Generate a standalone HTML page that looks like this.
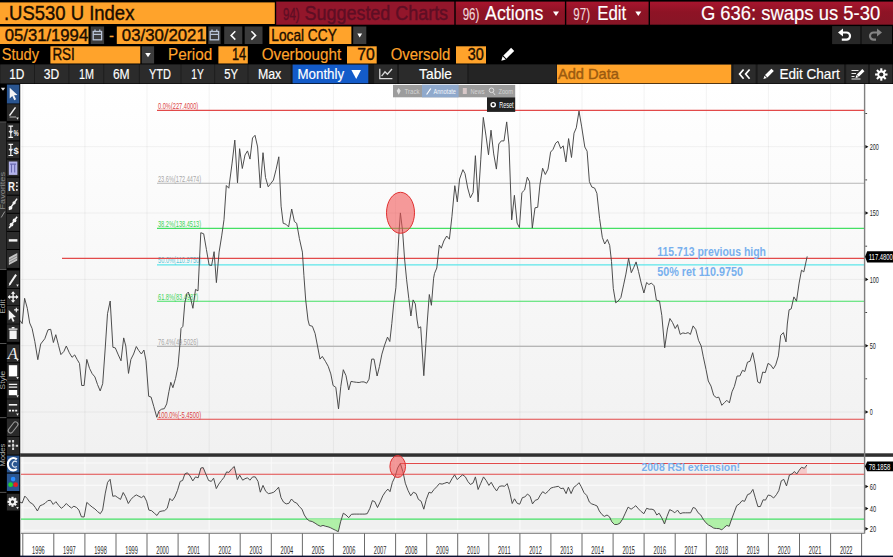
<!DOCTYPE html>
<html><head><meta charset="utf-8"><title>.US530 U Index</title>
<style>
html,body{margin:0;padding:0;background:#000;width:893px;height:557px;overflow:hidden}
svg{display:block;font-family:'Liberation Sans', sans-serif}
</style></head><body>
<svg width="893" height="557" viewBox="0 0 893 557">
<rect x="0" y="0" width="893" height="557" fill="#000"/>
<defs><linearGradient id="rg" x1="0" y1="0" x2="0" y2="1"><stop offset="0" stop-color="#a8152e"/><stop offset="0.45" stop-color="#8e1325"/><stop offset="1" stop-color="#871526"/></linearGradient></defs>
<g id="header">
<rect x="0.0" y="2.4" width="274.8" height="21.6" fill="#ffa32b" />
<text x="3.9" y="19.8" font-size="20" fill="#1a0d00" textLength="130.5" lengthAdjust="spacingAndGlyphs" stroke="#1a0d00" stroke-width="0.40" >.US530 U Index</text>
<rect x="276.2" y="1.6" width="178.1" height="23.1" fill="#93162b" />
<text x="283.0" y="19.8" font-size="17" fill="#5e0e24" textLength="16.6" lengthAdjust="spacingAndGlyphs" stroke="#5e0e24" stroke-width="0.40" >94)</text>
<text x="304.6" y="19.8" font-size="20" fill="#5e0e24" textLength="143.5" lengthAdjust="spacingAndGlyphs" stroke="#5e0e24" stroke-width="0.40" >Suggested Charts</text>
<rect x="455.7" y="1.6" width="109.2" height="23.1" fill="url(#rg)" />
<text x="462.7" y="19.8" font-size="17" fill="#f0d8dc" textLength="16.6" lengthAdjust="spacingAndGlyphs" stroke="#f0d8dc" stroke-width="0.16" >96)</text>
<text x="485.1" y="19.8" font-size="20" fill="#ffffff" textLength="58.2" lengthAdjust="spacingAndGlyphs" stroke="#ffffff" stroke-width="0.16" >Actions</text>
<path d="M553 11.5 h6 l-3 4.5z" fill="#fff"/>
<rect x="566.3" y="1.6" width="82.3" height="23.1" fill="url(#rg)" />
<text x="573.3" y="19.8" font-size="17" fill="#f0d8dc" textLength="16.7" lengthAdjust="spacingAndGlyphs" stroke="#f0d8dc" stroke-width="0.16" >97)</text>
<text x="597.2" y="19.8" font-size="20" fill="#ffffff" textLength="29.1" lengthAdjust="spacingAndGlyphs" stroke="#ffffff" stroke-width="0.16" >Edit</text>
<path d="M635.3 11.5 h6 l-3 4.5z" fill="#fff"/>
<rect x="650.0" y="1.6" width="243.0" height="23.1" fill="url(#rg)" />
<text x="700.9" y="19.8" font-size="20" fill="#ffffff" textLength="179.3" lengthAdjust="spacingAndGlyphs" stroke="#ffffff" stroke-width="0.16" >G 636: swaps us 5-30</text>
<rect x="0.0" y="26.5" width="88.5" height="17.5" fill="#ffa32b" />
<text x="4.7" y="41.2" font-size="17" fill="#1a0d00" textLength="83.5" lengthAdjust="spacingAndGlyphs" stroke="#1a0d00" stroke-width="0.40" >05/31/1994</text>
<rect x="90.7" y="26.5" width="13.4" height="17.5" fill="#3c3c3c" />
<g stroke="#b8c4d8" fill="none" stroke-width="1.3"><rect x="93.2" y="31.5" width="8.4" height="8.3"/><path d="M93.2 34.3 h8.4 M95.0 29.6 v2.2 M99.8 29.6 v2.2"/></g>
<text x="109.0" y="40.5" font-size="17" fill="#ffa32b" textLength="5.0" lengthAdjust="spacingAndGlyphs" stroke="#ffa32b" stroke-width="0.18" >-</text>
<rect x="116.8" y="26.5" width="89.4" height="17.5" fill="#ffa32b" />
<text x="121.8" y="41.2" font-size="17" fill="#1a0d00" textLength="84.0" lengthAdjust="spacingAndGlyphs" stroke="#1a0d00" stroke-width="0.40" >03/30/2021</text>
<rect x="208.3" y="26.5" width="12.3" height="17.5" fill="#3c3c3c" />
<g stroke="#b8c4d8" fill="none" stroke-width="1.3"><rect x="210.2" y="31.5" width="8.4" height="8.3"/><path d="M210.2 34.3 h8.4 M212.0 29.6 v2.2 M216.8 29.6 v2.2"/></g>
<rect x="224.2" y="26.5" width="18.1" height="17.5" fill="#3a3a3a" />
<path d="M235.3 31.2 l-4.2 4.2 l4.2 4.2" stroke="#fff" stroke-width="1.5" fill="none"/>
<rect x="244.7" y="26.5" width="17.8" height="17.5" fill="#3a3a3a" />
<path d="M251.4 31.2 l4.2 4.2 l-4.2 4.2" stroke="#fff" stroke-width="1.5" fill="none"/>
<rect x="269.3" y="26.5" width="82.1" height="17.5" fill="#ffa32b" />
<text x="271.3" y="41.2" font-size="17" fill="#1a0d00" textLength="65.5" lengthAdjust="spacingAndGlyphs" stroke="#1a0d00" stroke-width="0.40" >Local CCY</text>
<rect x="353.2" y="26.5" width="13.1" height="17.5" fill="#3c3c3c" />
<path d="M357.3 33.6 h4.8 l-2.4 3.8z" fill="#fff"/>
<rect x="832.1" y="26.1" width="28.5" height="18.0" fill="#272727" />
<rect x="861.4" y="26.1" width="30.6" height="18.0" fill="#272727" />
<g transform="translate(-1.8 0.3)"><g fill="none" stroke="#fff" stroke-width="2.2"><path d="M843 32.2 h5.2 a3.6 3.6 0 0 1 0 7.2 h-4.6"/></g><path d="M844.8 28.2 v8 l-5 -4z" fill="#fff"/></g>
<g transform="translate(-1.8 0.3)"><g fill="none" stroke="#848484" stroke-width="2.2"><path d="M880.6 32.2 h-5.2 a3.6 3.6 0 0 0 0 7.2 h2.4"/></g><path d="M878.8 28.2 v8 l5 -4z" fill="#848484"/></g>
<text x="1.7" y="60.3" font-size="17" fill="#ffa32b" textLength="37.3" lengthAdjust="spacingAndGlyphs" stroke="#ffa32b" stroke-width="0.18" >Study</text>
<rect x="50.4" y="46.3" width="89.9" height="17.2" fill="#ffa32b" />
<text x="52.4" y="60.3" font-size="17" fill="#1a0d00" textLength="22.4" lengthAdjust="spacingAndGlyphs" stroke="#1a0d00" stroke-width="0.40" >RSI</text>
<rect x="141.7" y="46.3" width="12.4" height="17.2" fill="#3c3c3c" />
<path d="M145.2 53 h5.6 l-2.8 4.2z" fill="#fff"/>
<text x="168.0" y="60.3" font-size="17" fill="#ffa32b" textLength="44.2" lengthAdjust="spacingAndGlyphs" stroke="#ffa32b" stroke-width="0.18" >Period</text>
<rect x="218.4" y="46.3" width="29.4" height="17.2" fill="#ffa32b" />
<text x="231.9" y="60.3" font-size="17" fill="#1a0d00" textLength="14.2" lengthAdjust="spacingAndGlyphs" stroke="#1a0d00" stroke-width="0.40" >14</text>
<text x="261.7" y="60.3" font-size="17" fill="#ffa32b" textLength="79.5" lengthAdjust="spacingAndGlyphs" stroke="#ffa32b" stroke-width="0.18" >Overbought</text>
<rect x="347.0" y="46.3" width="29.7" height="17.2" fill="#ffa32b" />
<text x="357.2" y="60.3" font-size="17" fill="#1a0d00" textLength="17.5" lengthAdjust="spacingAndGlyphs" stroke="#1a0d00" stroke-width="0.40" >70</text>
<text x="390.7" y="60.3" font-size="17" fill="#ffa32b" textLength="59.7" lengthAdjust="spacingAndGlyphs" stroke="#ffa32b" stroke-width="0.18" >Oversold</text>
<rect x="456.0" y="46.3" width="30.0" height="17.2" fill="#ffa32b" />
<text x="467.7" y="60.3" font-size="17" fill="#1a0d00" textLength="16.0" lengthAdjust="spacingAndGlyphs" stroke="#1a0d00" stroke-width="0.40" >30</text>
<g transform="translate(507 55) rotate(45)"><rect x="-2.2" y="-8" width="4.4" height="11" fill="#fff"/><path d="M-2.2 4 h4.4 l-2.2 4z" fill="#fff"/></g>
<rect x="0.0" y="64.4" width="893.0" height="19.0" fill="#1a1a1a" />
<rect x="0.4" y="64.6" width="33.6" height="18.7" fill="#2b2b2b" />
<text x="9.2" y="78.9" font-size="14.5" fill="#ffffff" textLength="15.2" lengthAdjust="spacingAndGlyphs" stroke="#ffffff" stroke-width="0.16" >1D</text>
<rect x="34.8" y="64.6" width="33.7" height="18.7" fill="#2b2b2b" />
<text x="43.7" y="78.9" font-size="14.5" fill="#ffffff" textLength="15.4" lengthAdjust="spacingAndGlyphs" stroke="#ffffff" stroke-width="0.16" >3D</text>
<rect x="69.3" y="64.6" width="34.1" height="18.7" fill="#2b2b2b" />
<text x="79.0" y="78.9" font-size="14.5" fill="#ffffff" textLength="15.0" lengthAdjust="spacingAndGlyphs" stroke="#ffffff" stroke-width="0.16" >1M</text>
<rect x="104.2" y="64.6" width="34.7" height="18.7" fill="#2b2b2b" />
<text x="112.9" y="78.9" font-size="14.5" fill="#ffffff" textLength="16.8" lengthAdjust="spacingAndGlyphs" stroke="#ffffff" stroke-width="0.16" >6M</text>
<rect x="139.7" y="64.6" width="40.9" height="18.7" fill="#2b2b2b" />
<text x="149.0" y="78.9" font-size="14.5" fill="#ffffff" textLength="21.9" lengthAdjust="spacingAndGlyphs" stroke="#ffffff" stroke-width="0.16" >YTD</text>
<rect x="181.4" y="64.6" width="32.9" height="18.7" fill="#2b2b2b" />
<text x="191.3" y="78.9" font-size="14.5" fill="#ffffff" textLength="12.6" lengthAdjust="spacingAndGlyphs" stroke="#ffffff" stroke-width="0.16" >1Y</text>
<rect x="215.1" y="64.6" width="32.5" height="18.7" fill="#2b2b2b" />
<text x="224.2" y="78.9" font-size="14.5" fill="#ffffff" textLength="13.9" lengthAdjust="spacingAndGlyphs" stroke="#ffffff" stroke-width="0.16" >5Y</text>
<rect x="248.4" y="64.6" width="42.2" height="18.7" fill="#2b2b2b" />
<text x="257.9" y="78.9" font-size="14.5" fill="#ffffff" textLength="23.4" lengthAdjust="spacingAndGlyphs" stroke="#ffffff" stroke-width="0.16" >Max</text>
<rect x="292.6" y="64.6" width="75.7" height="18.7" fill="#135bc9" />
<text x="297.5" y="78.9" font-size="14.5" fill="#ffffff" textLength="46.6" lengthAdjust="spacingAndGlyphs" stroke="#ffffff" stroke-width="0.16" >Monthly</text>
<path d="M351.4 70 h9.6 l-4.8 9z" fill="#fff"/>
<rect x="374.1" y="64.6" width="23.1" height="18.7" fill="#2b2b2b" />
<path d="M379.8 68.8 v9.8 h12.6 M381.6 76.2 l3.4 -4.4 l2.4 2.4 l4.6 -5.2" stroke="#d8d8d8" stroke-width="1.3" fill="none"/>
<rect x="399.0" y="64.6" width="68.3" height="18.7" fill="#2b2b2b" />
<text x="419.1" y="78.8" font-size="14.5" fill="#ffffff" textLength="32.9" lengthAdjust="spacingAndGlyphs" stroke="#ffffff" stroke-width="0.16" >Table</text>
<rect x="468.6" y="64.6" width="87.6" height="18.7" fill="#242424" />
<rect x="557.0" y="64.6" width="174.2" height="18.7" fill="#ffa32b" />
<text x="557.9" y="78.9" font-size="14.5" fill="#9a5a10" textLength="61.1" lengthAdjust="spacingAndGlyphs" stroke="#9a5a10" stroke-width="0.40" >Add Data</text>
<rect x="733.5" y="64.6" width="22.1" height="18.7" fill="#2b2b2b" />
<path d="M743.6 69.5 l-4 4.6 l4 4.6 M749.6 69.5 l-4 4.6 l4 4.6" stroke="#fff" stroke-width="1.7" fill="none"/>
<rect x="757.6" y="64.6" width="86.4" height="18.7" fill="#2b2b2b" />
<g transform="translate(768 74.5) rotate(45)"><rect x="-1.7" y="-6.5" width="3.4" height="9" fill="#fff"/><path d="M-1.7 3.3 h3.4 l-1.7 3.2z" fill="#fff"/></g>
<text x="779.4" y="78.9" font-size="14.5" fill="#ffffff" textLength="60.3" lengthAdjust="spacingAndGlyphs" stroke="#ffffff" stroke-width="0.16" >Edit Chart</text>
<rect x="846.2" y="64.6" width="21.8" height="18.7" fill="#2b2b2b" />
<g stroke="#e8e8e8" stroke-width="1.2" fill="none"><path d="M851.5 70.5 h7 M851.5 73.5 h4.5 M851.5 76.5 h3 M851.5 79 h9"/></g><g transform="translate(859.5 74) rotate(45)"><rect x="-1.5" y="-5.5" width="3" height="8" fill="#fff"/><path d="M-1.5 3 h3 l-1.5 2.6z" fill="#fff"/></g>
<rect x="870.0" y="64.6" width="22.0" height="18.7" fill="#2b2b2b" />
<g transform="translate(881.3 74.5)" fill="#fff"><rect x="-1.05" y="-6.2" width="2.1" height="3.4" transform="rotate(0)"/><rect x="-1.05" y="-6.2" width="2.1" height="3.4" transform="rotate(45)"/><rect x="-1.05" y="-6.2" width="2.1" height="3.4" transform="rotate(90)"/><rect x="-1.05" y="-6.2" width="2.1" height="3.4" transform="rotate(135)"/><rect x="-1.05" y="-6.2" width="2.1" height="3.4" transform="rotate(180)"/><rect x="-1.05" y="-6.2" width="2.1" height="3.4" transform="rotate(225)"/><rect x="-1.05" y="-6.2" width="2.1" height="3.4" transform="rotate(270)"/><rect x="-1.05" y="-6.2" width="2.1" height="3.4" transform="rotate(315)"/><circle r="3.9"/><circle r="2.1" fill="#2b2b2b"/></g>
</g>
<g id="chart">
<rect x="20.2" y="84.0" width="872.8" height="473.0" fill="#ffffff" />
<defs><linearGradient id="cg" x1="0" y1="0" x2="0" y2="1"><stop offset="0" stop-color="#ffffff"/><stop offset="1" stop-color="#f1f1f1"/></linearGradient></defs>
<rect x="20.2" y="84.0" width="844.4" height="369.0" fill="url(#cg)" />
<rect x="20.2" y="457.0" width="844.4" height="76.0" fill="#f0f0f0" />
<path d="M22.8 84 V453 M84.9 84 V453 M147.0 84 V453 M209.2 84 V453 M271.3 84 V453 M333.4 84 V453 M395.6 84 V453 M457.7 84 V453 M519.9 84 V453 M582.0 84 V453 M644.1 84 V453 M706.3 84 V453 M768.4 84 V453 M830.6 84 V453 M21 412.0 H864.6 M21 345.7 H864.6 M21 279.4 H864.6 M21 213.0 H864.6 M21 146.7 H864.6" stroke="#000" stroke-opacity="0.05" stroke-width="1" fill="none"/>
<path d="M22.8 457 V533 M84.9 457 V533 M147.0 457 V533 M209.2 457 V533 M271.3 457 V533 M333.4 457 V533 M395.6 457 V533 M457.7 457 V533 M519.9 457 V533 M582.0 457 V533 M644.1 457 V533 M706.3 457 V533 M768.4 457 V533 M830.6 457 V533 M21 530.3 H864.6 M21 507.9 H864.6 M21 485.4 H864.6 M21 463.0 H864.6" stroke="#f9f9f9" stroke-width="1.2" fill="none"/>
<path d="M157 110.4 H864.6" stroke="#e24a4a" stroke-width="1.15"/>
<text x="158.0" y="109.0" font-size="9" fill="#dc4444" textLength="40.2" lengthAdjust="spacingAndGlyphs" >0.0%(227.4000)</text>
<path d="M157 183.2 H864.6" stroke="#b6b6b6" stroke-width="1.15"/>
<text x="158.0" y="181.8" font-size="9" fill="#a8a8a8" textLength="43.1" lengthAdjust="spacingAndGlyphs" >23.6%(172.4474)</text>
<path d="M157 228.3 H864.6" stroke="#44e064" stroke-width="1.15"/>
<text x="158.0" y="226.9" font-size="9" fill="#3cd458" textLength="43.1" lengthAdjust="spacingAndGlyphs" >38.2%(138.4513)</text>
<path d="M157 264.8 H864.6" stroke="#5ce6ea" stroke-width="1.15"/>
<text x="158.0" y="263.4" font-size="9" fill="#5cc8d8" textLength="43.1" lengthAdjust="spacingAndGlyphs" >50.0%(110.9750)</text>
<path d="M157 301.2 H864.6" stroke="#44e064" stroke-width="1.15"/>
<text x="158.0" y="299.8" font-size="9" fill="#3cd458" textLength="40.2" lengthAdjust="spacingAndGlyphs" >61.8%(83.4987)</text>
<path d="M157 346.3 H864.6" stroke="#b6b6b6" stroke-width="1.15"/>
<text x="158.0" y="344.9" font-size="9" fill="#a8a8a8" textLength="40.2" lengthAdjust="spacingAndGlyphs" >76.4%(49.5026)</text>
<path d="M157 419.2 H864.6" stroke="#e24a4a" stroke-width="1.15"/>
<text x="158.0" y="417.8" font-size="9" fill="#dc4444" textLength="43.1" lengthAdjust="spacingAndGlyphs" >100.0%(-5.4500)</text>
<path d="M62 258.4 H864.6" stroke="#e24a4a" stroke-width="1.15"/>
<polyline points="20,320.4 22.2,323.6 24.6,298.3 27.3,308.3 29.7,323 32.1,328.5 34.8,341.4 37.8,359.7 40.7,344 44.8,338.7 48,329.8 50.7,329.3 53.4,342.5 55.8,334.7 58.5,345.4 60.9,354.6 63.9,351.4 66.3,346 69.3,352.7 72,357.3 74.7,354.9 77.1,359.4 79.5,363.5 81.7,385.5 84.1,385.5 86.8,359.4 89.5,368.3 92.2,373.7 94.9,376.9 97.5,384.5 100.2,390.9 102.7,383.7 105.1,350 107.5,313.7 110.2,301 112.9,347.3 115.3,347.9 118.3,354.9 121,360.8 123.7,337.9 125.8,346 128.5,373.4 130.9,359.4 133.6,354 136.3,346.5 138.7,350.5 141.4,354 143.9,350 146,360.8 148.7,396.3 151.1,397.1 153.8,406.6 156.8,417.3 158.9,411.1 161.6,409.2 164.3,408.7 166.7,403.9 168.9,391.7 170.8,382.3 172.9,387.7 175.6,378.3 178,366.2 179.9,344.6 181,328.5 182.9,326.3 184.8,302.9 186.9,293.5 188.3,292.1 190.7,298.8 192.9,308.3 195.5,289.4 198,290.9 200.8,232.7 203.7,233.8 206.4,249.4 209.1,265 211.6,265.5 214.1,251.7 216.4,282.6 219.1,252.1 221.7,235.9 224,219.7 226.3,185.5 228.8,188.2 232.1,163.1 234.8,140.1 237.5,182.8 239.6,148.7 242.3,168.5 245,155 247.5,150.9 250,159.1 252.5,138 255,135.3 257.6,146.9 260.3,187.9 263,152.7 265.5,177.5 268.2,186.8 270.7,183.7 273.4,180.1 276.1,169.4 278.8,156.8 281.1,206.2 283.2,223.3 285.9,224.2 288.6,226.9 291.7,209 294.4,221.5 296.7,223.3 299.4,238.6 302.4,252.1 303.9,275.4 305.7,300 308,320 309.4,325.4 312.4,326.3 315.1,333.5 317.5,346 320,359.1 322.3,356.4 325.4,361.3 328.2,366.3 330.8,373.9 333.1,385.5 335.8,387.3 338.5,408.9 340.8,386.4 343.3,369.7 346,375.7 348.7,390 351,381.4 353.7,381.9 356.4,382.3 359.1,382.5 361.5,381.9 364,381.9 366.7,383.2 369,379.2 371.7,359.1 374,359.1 377.1,376 379.4,366.7 381.9,354.1 384.6,345.1 387.5,337.1 389.8,341.5 391.8,323.6 393.7,303.9 395.9,287.7 397.7,255.4 399.1,231.2 400.4,212.9 402.6,231.2 404.5,258.1 406.6,279.7 408.8,298.5 410.9,316 413.1,299.9 415.3,303.9 417.1,320 418.4,328.1 420.7,326.8 423.8,375.7 425.9,343.3 427.4,320 429.3,294.5 431.4,305.3 433.6,278.3 434.5,273.4 436.8,268 439.3,245 441.3,248.2 443.8,241 446.7,236 449.4,239.2 451.9,216.8 454.8,185.7 457.3,201.9 459.6,179 462.9,169.7 465,173.6 467.7,188 470.4,197.8 473.1,192.5 475.4,155.7 478.1,201.9 480.8,159.2 483.3,117.4 486,135.9 488.5,154.8 491,130.2 493.7,153.9 496.4,169.1 498.8,144 501.3,140.9 504,140.9 506.7,121.9 509,144.9 511.7,219.9 514.4,195.3 517.1,223.1 519.4,227.6 521.9,192.6 524.6,190 527.3,177.2 529.6,181.7 532.3,228.1 535,207.8 537.7,207.3 539.9,185 542.6,168.2 545.3,174.5 548,169.1 550.6,152.1 553,149.4 555.7,143.1 558,141.3 560.7,148.5 563.2,145.8 565.9,161.9 568.6,138.6 571.5,157.5 574,133.2 576.3,127.8 579,111.1 581.7,126.9 584.8,147 587.1,151.2 589.4,181.7 591.9,187.1 594.6,188 596.9,193.3 599.6,218.5 602.3,237.3 604.7,244 607.4,239.5 609.7,245.4 611.5,261.5 613.3,288.5 615.7,302.8 618.2,301 620.9,297.5 623.6,284.9 625.9,274.1 628.6,258.3 631.3,272.7 633.6,267.8 636.1,261.9 638.5,271.4 641.2,283.1 643.9,293 646.6,282.5 648.9,284.5 651.4,283.1 654.1,285.8 656.4,300.1 659.5,301 661.8,315.4 664.7,347.8 667.4,329 669.9,318.5 672.5,322.5 675.2,328.5 677.5,324.6 680.2,334.4 682.9,332.9 685.5,333.5 688.1,332.6 690.4,334.4 693.1,325.9 695.8,329.6 698.5,340.3 701.2,346 703.3,356.8 706,369.4 708.3,381 711,386.1 713.7,395.4 716.4,397.6 718.8,397.2 721.8,405.3 724.5,402.6 726.8,400.3 729.4,402.9 732,391.8 734.4,386.4 737.1,376 739.8,376 742.5,370.3 744.8,371.5 747.5,362.2 750,361.3 752.7,352.7 755,364 757.7,381.9 760.1,383.2 762.7,372.1 765.3,372.6 768,363.4 770.6,364.9 773.3,368.8 775.7,364.9 778.4,355.9 780.7,335.3 783.4,332.6 786,341.9 787.3,324 789.1,309.8 791.2,308.9 793.9,296.9 796.5,301.2 799.1,283.1 801.5,270.2 803.8,271.9 805.5,264.1 807.2,256.4" fill="none" stroke="#444" stroke-width="0.95" stroke-linejoin="round"/>
<ellipse cx="400.5" cy="212.8" rx="14" ry="20.5" fill="#f25252" fill-opacity="0.58" stroke="#e03030" stroke-width="1"/>
<text x="657.3" y="255.6" font-size="12.5" fill="#78b0ee" font-weight="bold" textLength="108.7" lengthAdjust="spacingAndGlyphs" >115.713 previous high</text>
<text x="657.3" y="276.3" font-size="12.5" fill="#78b0ee" font-weight="bold" textLength="85.7" lengthAdjust="spacingAndGlyphs" >50% ret 110.9750</text>
<rect x="393.0" y="84.9" width="122.2" height="12.4" fill="#9c9c9c" />
<rect x="422.0" y="84.7" width="36.6" height="12.6" fill="#8fa9cc" />
<text x="404.5" y="93.8" font-size="6.5" fill="#d4d4d4" textLength="15.0" lengthAdjust="spacingAndGlyphs" >Track</text>
<text x="433.5" y="93.8" font-size="6.5" fill="#f4f6fa" textLength="22.5" lengthAdjust="spacingAndGlyphs" >Annotate</text>
<text x="470.5" y="93.8" font-size="6.5" fill="#d4d4d4" textLength="14.0" lengthAdjust="spacingAndGlyphs" >News</text>
<text x="498.5" y="93.8" font-size="6.5" fill="#d4d4d4" textLength="14.5" lengthAdjust="spacingAndGlyphs" >Zoom</text>
<path d="M398.7 88 l2 2.8 l-2 4 l-2 -4z" fill="#e0e0e0"/><path d="M426.6 94.5 l4.2 -6" stroke="#fff" stroke-width="1.2"/><rect x="462.8" y="88" width="4" height="6" fill="#d8c8c8"/><circle cx="491.5" cy="90.3" r="2.3" fill="none" stroke="#e0e0e0" stroke-width="1"/><path d="M493 92.3 l2 2.6" stroke="#e0e0e0" stroke-width="1"/>
<rect x="487.0" y="97.3" width="28.2" height="14.6" fill="#202020" />
<circle cx="493.2" cy="104.7" r="2.1" fill="none" stroke="#fff" stroke-width="1.4"/>
<text x="499.2" y="107.8" font-size="9" fill="#ffffff" textLength="14.4" lengthAdjust="spacingAndGlyphs" >Reset</text>
<rect x="20.2" y="453.3" width="872.8" height="3.5" fill="#303030" />
<path d="M21 474.2 H864.6" stroke="#e24a4a" stroke-width="1.15"/>
<path d="M21 519.1 H864.6" stroke="#44e064" stroke-width="1.15"/>
<path d="M400 463.5 H864.6" stroke="#e24a4a" stroke-width="1.15"/>
<polygon points="184.8,474.2 184.9,473.9 187.4,472.8 188.6,474.2" fill="#f8b0b0" fill-opacity="0.6"/>
<polygon points="199.2,474.2 200.9,468.0 203.2,467.6 205.9,474.2 205.9,474.2" fill="#f8b0b0" fill-opacity="0.6"/>
<polygon points="225.5,474.2 226.6,471.9 228.9,472.4 231.6,468.9 234.3,466.5 236.1,474.2" fill="#f8b0b0" fill-opacity="0.6"/>
<polygon points="395.8,474.2 397.6,468.0 400.3,463.5 402.9,471.5 403.5,474.2" fill="#f8b0b0" fill-opacity="0.6"/>
<polygon points="791.4,474.2 791.9,474.0 794.4,471.5 796.7,474.0 799.2,470.2 801.5,467.3 804.4,468.3 806.9,465.0 806.9,474.2" fill="#f8b0b0" fill-opacity="0.6"/>
<polygon points="307.0,519.1 309.5,520.9 312.2,521.5 315.1,523.2 317.8,525.0 320.5,526.3 323.0,525.4 325.7,526.3 328.0,526.8 330.2,527.6 332.9,529.0 335.6,530.3 338.3,531.7 340.6,521.8 341.4,519.1" fill="#a8f0a0" fill-opacity="0.9"/>
<polygon points="610.6,519.1 611.8,521.8 614.5,524.5 617.2,524.5 619.9,523.2 622.6,519.1" fill="#a8f0a0" fill-opacity="0.9"/>
<polygon points="662.3,519.1 664.5,524.0 666.1,519.1" fill="#a8f0a0" fill-opacity="0.9"/>
<polygon points="703.1,519.1 705.8,522.7 708.5,525.0 711.0,526.3 713.7,528.1 716.4,528.5 719.1,528.6 721.8,529.9 724.1,527.6 726.8,525.4 729.2,526.3 731.3,520.0 731.6,519.1" fill="#a8f0a0" fill-opacity="0.9"/>
<polyline points="20,502.1 22.2,503 24.8,496.1 27.2,498.5 29.9,502.4 32.6,503.9 35.3,507.5 37.4,511 40.1,505.7 42.4,504.8 45.1,503.3 47.8,500.6 50.5,500.3 53.2,504.4 55.9,501.7 58.6,505.3 61.3,508.3 63.6,506.6 66.3,503.5 68.8,506 71.5,508 73.9,506.2 76.6,507.5 78.9,510.1 81.4,516.8 84.1,517 86.8,502.4 89.5,504.8 92.2,507.1 94.9,508.9 97.6,511.6 100.3,513.7 102.6,510.1 105.3,493.1 107.6,482.3 110.1,479.3 112.8,496.3 115.2,495.8 117.8,497.6 120.5,499.4 123.2,492.5 125.6,496.7 128.3,503.5 131,499.4 133.6,496.7 136.3,494.9 138.9,496.3 141.5,497.6 143.9,495.8 146.6,501.2 148.9,510.1 151.6,510.7 154.3,513.2 157,515.5 159.5,511.6 162.2,511 164.5,510.7 167.2,508.3 169.9,498.5 172.2,500.8 174.8,497 177.5,490.4 180.2,481.4 182.6,480.5 184.9,473.9 187.4,472.8 190.1,476 192.8,480.9 195.5,476.9 198.2,477.8 200.9,468 203.2,467.6 205.9,474.2 208.6,480.5 211.3,481.4 213.6,478.2 216.3,488.6 218.8,484.1 221.5,480.5 223.9,477.5 226.6,471.9 228.9,472.4 231.6,468.9 234.3,466.5 237.3,479.6 239.7,475.1 242.7,480.2 245,478.7 247.6,477.8 249.9,480.2 252.6,476.9 255.3,476.9 258,481.4 260.3,492.2 263,485.4 265.7,491.3 268.4,493.6 271.1,493.1 273.8,492.2 276.3,489.9 278.6,487.2 281,497.6 283.5,502.1 286.2,503.9 288.9,503.3 291.5,499 294.2,502.1 296.6,503 299.3,506.6 302,509.2 304.3,515 307,519.1 309.5,520.9 312.2,521.5 315.1,523.2 317.8,525 320.5,526.3 323,525.4 325.7,526.3 328,526.8 330.2,527.6 332.9,529 335.6,530.3 338.3,531.7 340.6,521.8 343.3,513.2 346,515 348.7,517.7 351.4,514.3 354.1,514.1 356.8,514.1 359.5,514.1 362.2,514.1 364.9,514.1 367.2,513.7 369.9,508.3 372.4,500.6 374.8,501.7 377.5,507.5 380.1,502.1 382.8,495.8 385.5,491.7 387.9,489.1 390,491.7 392.4,482.3 395,476.9 397.6,468 400.3,463.5 402.9,471.5 405.3,483.2 408,490.4 410.7,495.8 413.4,492.2 416.1,493.6 418.4,499.4 421.1,501.2 423.8,509.2 426.3,499.4 429,492.2 431.3,493.1 434,489.5 436.7,486.8 439.4,483.6 442.1,484.1 444.8,483.2 447.1,482.3 449.3,483.6 452,478.7 454.6,474.8 457.3,479.6 460,476.9 462.7,474.8 465.4,476.9 467.8,481.4 470.4,484.5 473.1,482.9 475.4,476.9 478.1,489.5 480.8,483.2 483.5,476.9 486.2,480.5 488.9,485.4 491.2,482.3 493.9,487.2 496.6,490.9 499.3,486.4 502,485.9 504.6,486.3 507.2,483.6 509.5,490.9 512.2,503.5 514.5,498.8 517.2,503.3 519.7,504.2 522.4,497.6 524.8,497 527.5,494 530.1,496.3 532.5,503.9 535.2,500.3 537.9,499.4 540.4,494.9 542.7,491.7 545.4,493.6 548.1,491.3 550.8,488.1 553.5,487.3 555.8,486.8 558.3,486.3 561,488.6 563.4,488.1 566.1,493.6 568.4,487.2 571.1,493.6 573.8,487.3 576.3,485.5 579,482.7 581.3,486.8 584,492.7 586.7,495.4 589.4,502.1 591.7,503.9 594.4,504.8 597.1,506 599.3,511 602,514.6 604.3,516.4 607,515 609.5,516.8 611.8,521.8 614.5,524.5 617.2,524.5 619.9,523.2 622.6,519.1 625.3,513.2 628.1,507.1 631.1,509.2 633.5,507.5 635.8,505.7 638.5,508.9 641.2,511.6 643.9,513.7 646.6,508.3 649.3,509.2 652,509.2 654.1,510.1 656.8,515 659.1,513.2 661.8,517.9 664.5,524 667,516.4 669.7,509.6 672.4,511 674.8,512.8 677.5,510.1 680.1,513.7 682.8,512.8 685.5,512.8 687.9,512.8 690.6,512.8 693.1,507.5 695.4,508.3 698.1,512.8 700.8,515 703.1,519.1 705.8,522.7 708.5,525 711,526.3 713.7,528.1 716.4,528.5 719.1,528.6 721.8,529.9 724.1,527.6 726.8,525.4 729.2,526.3 731.3,520 734,512.8 736.7,505.7 739.4,503.9 742.1,500.6 744.6,501.3 747.6,494.6 750.2,493.6 752.9,489.4 755.3,497.8 757.9,506.6 760.4,506.5 763.1,499.8 765.5,500.1 768.2,495 770.8,495.7 773.6,498 776.4,494.7 778.8,490.6 781.3,480.8 783.8,479.4 786.5,485.9 789.4,475 791.9,474 794.4,471.5 796.7,474 799.2,470.2 801.5,467.3 804.4,468.3 806.9,465" fill="none" stroke="#444" stroke-width="0.95" stroke-linejoin="round"/>
<ellipse cx="397.7" cy="466.5" rx="7.8" ry="11" fill="#f25252" fill-opacity="0.58" stroke="#e03030" stroke-width="1"/>
<text x="641.5" y="471.4" font-size="11.8" fill="#78b0ee" font-weight="bold" textLength="98.5" lengthAdjust="spacingAndGlyphs" >2008 RSI extension!</text>
<path d="M22.8 533 V556 M53.8 533 V556 M84.9 533 V556 M116.0 533 V556 M147.0 533 V556 M178.1 533 V556 M209.2 533 V556 M240.2 533 V556 M271.3 533 V556 M302.4 533 V556 M333.4 533 V556 M364.5 533 V556 M395.6 533 V556 M426.7 533 V556 M457.7 533 V556 M488.8 533 V556 M519.9 533 V556 M550.9 533 V556 M582.0 533 V556 M613.1 533 V556 M644.1 533 V556 M675.2 533 V556 M706.3 533 V556 M737.4 533 V556 M768.4 533 V556 M799.5 533 V556 M830.6 533 V556 M861.6 533 V556" stroke="#5a5a5a" stroke-width="0.9" fill="none"/>
<path d="M21 533.3 H864.6" stroke="#777" stroke-width="1"/>
<text x="32.1" y="554.2" font-size="10" fill="#2a2a2a" textLength="12.6" lengthAdjust="spacingAndGlyphs" >1996</text>
<text x="63.1" y="554.2" font-size="10" fill="#2a2a2a" textLength="12.6" lengthAdjust="spacingAndGlyphs" >1997</text>
<text x="94.2" y="554.2" font-size="10" fill="#2a2a2a" textLength="12.6" lengthAdjust="spacingAndGlyphs" >1998</text>
<text x="125.3" y="554.2" font-size="10" fill="#2a2a2a" textLength="12.6" lengthAdjust="spacingAndGlyphs" >1999</text>
<text x="156.3" y="554.2" font-size="10" fill="#2a2a2a" textLength="12.6" lengthAdjust="spacingAndGlyphs" >2000</text>
<text x="187.4" y="554.2" font-size="10" fill="#2a2a2a" textLength="12.6" lengthAdjust="spacingAndGlyphs" >2001</text>
<text x="218.5" y="554.2" font-size="10" fill="#2a2a2a" textLength="12.6" lengthAdjust="spacingAndGlyphs" >2002</text>
<text x="249.5" y="554.2" font-size="10" fill="#2a2a2a" textLength="12.6" lengthAdjust="spacingAndGlyphs" >2003</text>
<text x="280.6" y="554.2" font-size="10" fill="#2a2a2a" textLength="12.6" lengthAdjust="spacingAndGlyphs" >2004</text>
<text x="311.7" y="554.2" font-size="10" fill="#2a2a2a" textLength="12.6" lengthAdjust="spacingAndGlyphs" >2005</text>
<text x="342.8" y="554.2" font-size="10" fill="#2a2a2a" textLength="12.6" lengthAdjust="spacingAndGlyphs" >2006</text>
<text x="373.8" y="554.2" font-size="10" fill="#2a2a2a" textLength="12.6" lengthAdjust="spacingAndGlyphs" >2007</text>
<text x="404.9" y="554.2" font-size="10" fill="#2a2a2a" textLength="12.6" lengthAdjust="spacingAndGlyphs" >2008</text>
<text x="436.0" y="554.2" font-size="10" fill="#2a2a2a" textLength="12.6" lengthAdjust="spacingAndGlyphs" >2009</text>
<text x="467.0" y="554.2" font-size="10" fill="#2a2a2a" textLength="12.6" lengthAdjust="spacingAndGlyphs" >2010</text>
<text x="498.1" y="554.2" font-size="10" fill="#2a2a2a" textLength="12.6" lengthAdjust="spacingAndGlyphs" >2011</text>
<text x="529.2" y="554.2" font-size="10" fill="#2a2a2a" textLength="12.6" lengthAdjust="spacingAndGlyphs" >2012</text>
<text x="560.2" y="554.2" font-size="10" fill="#2a2a2a" textLength="12.6" lengthAdjust="spacingAndGlyphs" >2013</text>
<text x="591.3" y="554.2" font-size="10" fill="#2a2a2a" textLength="12.6" lengthAdjust="spacingAndGlyphs" >2014</text>
<text x="622.4" y="554.2" font-size="10" fill="#2a2a2a" textLength="12.6" lengthAdjust="spacingAndGlyphs" >2015</text>
<text x="653.5" y="554.2" font-size="10" fill="#2a2a2a" textLength="12.6" lengthAdjust="spacingAndGlyphs" >2016</text>
<text x="684.5" y="554.2" font-size="10" fill="#2a2a2a" textLength="12.6" lengthAdjust="spacingAndGlyphs" >2017</text>
<text x="715.6" y="554.2" font-size="10" fill="#2a2a2a" textLength="12.6" lengthAdjust="spacingAndGlyphs" >2018</text>
<text x="746.7" y="554.2" font-size="10" fill="#2a2a2a" textLength="12.6" lengthAdjust="spacingAndGlyphs" >2019</text>
<text x="777.7" y="554.2" font-size="10" fill="#2a2a2a" textLength="12.6" lengthAdjust="spacingAndGlyphs" >2020</text>
<text x="808.8" y="554.2" font-size="10" fill="#2a2a2a" textLength="12.6" lengthAdjust="spacingAndGlyphs" >2021</text>
<text x="839.9" y="554.2" font-size="10" fill="#2a2a2a" textLength="12.6" lengthAdjust="spacingAndGlyphs" >2022</text>
<path d="M864.6 84 V533.5" stroke="#808080" stroke-width="1.4"/>
<path d="M865.4 410.2 v3.6 l3 -1.8z" fill="#111"/>
<text x="869.8" y="415.4" font-size="9.5" fill="#222" textLength="3.0" lengthAdjust="spacingAndGlyphs" >0</text>
<path d="M865.4 343.9 v3.6 l3 -1.8z" fill="#111"/>
<text x="869.8" y="349.1" font-size="9.5" fill="#222" textLength="6.1" lengthAdjust="spacingAndGlyphs" >50</text>
<path d="M865.4 277.6 v3.6 l3 -1.8z" fill="#111"/>
<text x="869.8" y="282.8" font-size="9.5" fill="#222" textLength="9.1" lengthAdjust="spacingAndGlyphs" >100</text>
<path d="M865.4 211.2 v3.6 l3 -1.8z" fill="#111"/>
<text x="869.8" y="216.4" font-size="9.5" fill="#222" textLength="9.1" lengthAdjust="spacingAndGlyphs" >150</text>
<path d="M865.4 144.9 v3.6 l3 -1.8z" fill="#111"/>
<text x="869.8" y="150.1" font-size="9.5" fill="#222" textLength="9.1" lengthAdjust="spacingAndGlyphs" >200</text>
<path d="M865.3 378.8 h1.8 M865.3 312.5 h1.8 M865.3 246.2 h1.8 M865.3 179.9 h1.8 M865.3 113.5 h1.8" stroke="#444" stroke-width="1"/>
<path d="M865.4 484.7 v3.6 l3 -1.8z" fill="#111"/>
<text x="869.8" y="489.9" font-size="9.5" fill="#222" textLength="6.3" lengthAdjust="spacingAndGlyphs" >60</text>
<path d="M865.4 506.8 v3.6 l3 -1.8z" fill="#111"/>
<text x="869.8" y="512.0" font-size="9.5" fill="#222" textLength="6.3" lengthAdjust="spacingAndGlyphs" >40</text>
<path d="M865.4 527.0 v3.6 l3 -1.8z" fill="#111"/>
<text x="869.8" y="532.2" font-size="9.5" fill="#222" textLength="6.3" lengthAdjust="spacingAndGlyphs" >20</text>
<path d="M865 256.8 l2.2 -5.6 H893 v11.2 H867.2z" fill="#000"/>
<text x="868.8" y="260.2" font-size="9.5" fill="#fff" textLength="24.0" lengthAdjust="spacingAndGlyphs" >117.4800</text>
<path d="M865 466.3 l2.2 -4.9 H893 v9.8 H867.2z" fill="#000"/>
<text x="868.8" y="469.6" font-size="9.5" fill="#fff" textLength="21.5" lengthAdjust="spacingAndGlyphs" >78.1858</text>
<rect x="0.0" y="555.6" width="893.0" height="1.4" fill="#0a1030" />
</g>
<g id="ltool">
<rect x="0.0" y="84.0" width="20.2" height="473.0" fill="#000" />
<rect x="0.0" y="122.2" width="6.4" height="147.0" fill="#2e2e2e" />
<rect x="0.0" y="121.6" width="6.4" height="0.8" fill="#6a6a6a" />
<rect x="0.0" y="269.1" width="6.4" height="0.8" fill="#6a6a6a" />
<rect x="0.0" y="343.2" width="6.4" height="0.8" fill="#6a6a6a" />
<rect x="0.0" y="417.3" width="6.4" height="0.8" fill="#6a6a6a" />
<rect x="0.0" y="491.9" width="6.4" height="0.8" fill="#6a6a6a" />
<path d="M0.8 87.8 h4.4 l-2.2 3z" fill="#e8e8e8"/>
<text transform="translate(5.2 209.5) rotate(-90)" font-size="6.8" fill="#8c8c8c" textLength="37.5" lengthAdjust="spacingAndGlyphs">Favorites</text>
<path d="M1.2 217.5 l3.6 -6" stroke="#9a9a9a" stroke-width="1"/>
<text transform="translate(5.2 313.7) rotate(-90)" font-size="6.8" fill="#b0b0b0" textLength="14.4" lengthAdjust="spacingAndGlyphs">Edit</text>
<text transform="translate(5.2 389.4) rotate(-90)" font-size="6.8" fill="#b0b0b0" textLength="18.6" lengthAdjust="spacingAndGlyphs">Style</text>
<text transform="translate(5.2 466.6) rotate(-90)" font-size="6.8" fill="#b0b0b0" textLength="23" lengthAdjust="spacingAndGlyphs">Modes</text>
<rect x="6.9" y="84.6" width="12.5" height="18.9" fill="#2a5590" />
<rect x="6.9" y="104.2" width="12.5" height="16.7" fill="#2a2a2a" />
<rect x="6.9" y="123.3" width="12.5" height="17.1" fill="#2a2a2a" />
<rect x="6.9" y="141.4" width="12.5" height="17.1" fill="#2a2a2a" />
<rect x="6.9" y="159.5" width="12.5" height="17.1" fill="#2a2a2a" />
<rect x="6.9" y="177.6" width="12.5" height="17.1" fill="#2a2a2a" />
<rect x="6.9" y="195.7" width="12.5" height="17.1" fill="#2a2a2a" />
<rect x="6.9" y="213.8" width="12.5" height="17.1" fill="#2a2a2a" />
<rect x="6.9" y="231.9" width="12.5" height="17.1" fill="#2a2a2a" />
<rect x="6.9" y="250.0" width="12.5" height="17.9" fill="#2a2a2a" />
<rect x="6.9" y="270.5" width="12.5" height="17.5" fill="#2a2a2a" />
<rect x="6.9" y="288.8" width="12.5" height="16.4" fill="#2a2a2a" />
<rect x="6.9" y="305.8" width="12.5" height="17.9" fill="#2a2a2a" />
<rect x="6.9" y="324.4" width="12.5" height="17.4" fill="#2a2a2a" />
<rect x="6.9" y="344.5" width="12.5" height="17.9" fill="#2a2a2a" />
<rect x="6.9" y="363.2" width="12.5" height="17.3" fill="#2a2a2a" />
<rect x="6.9" y="381.0" width="12.5" height="17.6" fill="#2a2a2a" />
<rect x="6.9" y="399.4" width="12.5" height="17.6" fill="#2a2a2a" />
<rect x="6.9" y="418.5" width="12.5" height="17.7" fill="#2a2a2a" />
<rect x="6.9" y="437.0" width="12.5" height="17.6" fill="#2a2a2a" />
<rect x="6.9" y="455.6" width="12.5" height="16.9" fill="#2a5590" />
<rect x="6.9" y="473.6" width="12.5" height="17.4" fill="#2a5590" />
<rect x="6.9" y="493.8" width="12.5" height="16.7" fill="#2a2a2a" />
<path d="M9.7 87.8 l0 10.6 l2.6 -2.4 l2 4.2 l1.8 -0.9 l-2 -4 l3.4 -0.3z" fill="#f4f4f4"/>
<path d="M9.5 115.6 l6 -8.2" stroke="#f4f4f4" stroke-width="1.5"/><path d="M9.5 117.0 h6.6" stroke="#c8c8c8" stroke-width="0.9"/>
<path d="M16.2 117.5 h2.6 l-1.3 2.2z" fill="#e8e8e8"/>
<path d="M8.5 126.2 h4.6 M10.8 126.2 v11 M8.5 137.4 h4.6 M9.1 130.8 l1.7 2.2 l1.7 -2.2" stroke="#f4f4f4" stroke-width="1.2" fill="none"/>
<text x="13.5" y="136.2" font-size="9" font-weight="bold" fill="#f4f4f4" textLength="5.2" lengthAdjust="spacingAndGlyphs">%</text>
<path d="M8.5 144.3 h4.6 M10.8 144.3 v11 M8.5 155.5 h4.6 M9.1 148.9 l1.7 2.2 l1.7 -2.2" stroke="#f4f4f4" stroke-width="1.2" fill="none"/>
<text x="13.5" y="154.3" font-size="9" font-weight="bold" fill="#f4f4f4" textLength="5.2" lengthAdjust="spacingAndGlyphs">$</text>
<rect x="8.8" y="161.5" width="8.6" height="13.4" fill="#b4b4ec" />
<path d="M11.5 164.1 v8.5 M14.7 164.1 v8.5 M10.1 164.1 h6" stroke="#6a6ab0" stroke-width="1.1"/>
<text x="8.1" y="190.7" font-size="12.5" font-weight="bold" fill="#f4f4f4" textLength="7" lengthAdjust="spacingAndGlyphs">R</text>
<path d="M16.1 181.9 v1.6 h1.6 v-1.6z M16.1 185.5 v1.6 h1.6 v-1.6z M16.1 189.1 v1.6 h1.6 v-1.6z" fill="#f4f4f4"/>
<path d="M9.1 209.8 l8 -11.2" stroke="#f4f4f4" stroke-width="1.5"/><circle cx="10.5" cy="207.8" r="1.9" fill="#f4f4f4"/><circle cx="14.1" cy="202.8" r="1.6" fill="#f4f4f4"/>
<path d="M9.1 228.0 l8 -11.2" stroke="#f4f4f4" stroke-width="1.5"/><circle cx="11.5" cy="224.6" r="1.9" fill="#f4f4f4"/><circle cx="14.5" cy="220.4" r="1.9" fill="#f4f4f4"/>
<rect x="8.8" y="239.2" width="8.6" height="2.4" fill="#f4f4f4" />
<path d="M8.9 264.9 v-7.5 l8.4 -4.5 v7.5z" fill="#c4c4c4"/><path d="M8.9 262.6 l8.4 -4.5 M8.9 260.1 l8.4 -4.5" stroke="#707070" stroke-width="0.7"/>
<path d="M9.7 284.2 l6.4 -9.6" stroke="#f4f4f4" stroke-width="2"/><path d="M8.7 285.9 l0.6 -2.4 l1.6 1z" fill="#f4f4f4"/>
<path d="M16.2 284.6 h2.6 l-1.3 2.2z" fill="#e8e8e8"/>
<path d="M13.1 292.6 v8.8 M8.7 297.0 h8.8" stroke="#f4f4f4" stroke-width="1.4"/><path d="M13.1 291.2 l-2.2 2.6 h4.4z M13.1 302.8 l-2.2 -2.6 h4.4z M7.7 297.0 l2.4 -2.2 v4.4z M18.5 297.0 l-2.4 -2.2 v4.4z" fill="#f4f4f4"/>
<path d="M8.7 310.1 l0 10.2 l2.4 -2.2 l1.8 3.8 l1.6 -0.8 l-1.8 -3.7 l3.2 -0.3z" fill="#f4f4f4"/><path d="M16.3 307.8 v4.4 M14.1 309.9 h4.4" stroke="#f4f4f4" stroke-width="1.1"/>
<path d="M9.5 330.5 h7.2 v8.6 h-7.2z" fill="#f4f4f4"/><path d="M8.7 329.1 h8.8 M11.7 327.7 h2.8" stroke="#f4f4f4" stroke-width="1.2"/>
<text x="7.7" y="358.8" font-size="16" font-style="italic" font-family="'Liberation Serif',serif" fill="#f4f4f4" textLength="10" lengthAdjust="spacingAndGlyphs">A</text>
<path d="M16.2 359.0 h2.6 l-1.3 2.2z" fill="#e8e8e8"/>
<rect x="8.8" y="365.2" width="8.4" height="11.2" fill="#ffffff" />
<path d="M16.2 377.1 h2.6 l-1.3 2.2z" fill="#e8e8e8"/>
<path d="M8.8 384.4 h8.4 M8.8 387.2 h8.4" stroke="#f4f4f4" stroke-width="1.3"/>
<rect x="8.8" y="390.0" width="8.4" height="5.2" fill="#ffffff" />
<path d="M16.2 395.2 h2.6 l-1.3 2.2z" fill="#e8e8e8"/>
<path d="M8.8 404.8 h8.4" stroke="#f4f4f4" stroke-width="1.6"/><path d="M8.8 410.6 h8.4" stroke="#f4f4f4" stroke-width="1.8" stroke-dasharray="2.2 1"/>
<path d="M16.2 413.6 h2.6 l-1.3 2.2z" fill="#e8e8e8"/>
<rect x="-2.4" y="-6.4" width="4.8" height="12.8" rx="2.4" fill="none" stroke="#9a9a9a" stroke-width="1.1" transform="translate(13.1 427.4) rotate(38)"/>
<path d="M13.1 440.0 v11.6 M8.1 445.8 h10" stroke="#d8d8d8" stroke-width="2" stroke-dasharray="2.4 1.4"/><rect x="8.5" y="440.2" width="2.2" height="2.2" fill="#e8e8e8"/>
<path d="M16.8 459.4 a5.4 6.2 0 1 0 0 9.6" fill="none" stroke="#ffffff" stroke-width="2.2"/><path d="M16.8 462.1 a2.6 3 0 1 0 0 4.2" fill="none" stroke="#dfe8f4" stroke-width="1.2"/>
<circle cx="13.1" cy="479.1" r="2.3" fill="#2a8cff"/><circle cx="10.6" cy="484.7" r="2.4" fill="#20d030"/><circle cx="15.6" cy="484.7" r="2.4" fill="#e82020"/>
<g transform="translate(12.5 501.8)" fill="#f4f4f4"><rect x="-1.1" y="-5" width="2.2" height="2.6" transform="rotate(0)"/><rect x="-1.1" y="-5" width="2.2" height="2.6" transform="rotate(45)"/><rect x="-1.1" y="-5" width="2.2" height="2.6" transform="rotate(90)"/><rect x="-1.1" y="-5" width="2.2" height="2.6" transform="rotate(135)"/><rect x="-1.1" y="-5" width="2.2" height="2.6" transform="rotate(180)"/><rect x="-1.1" y="-5" width="2.2" height="2.6" transform="rotate(225)"/><rect x="-1.1" y="-5" width="2.2" height="2.6" transform="rotate(270)"/><rect x="-1.1" y="-5" width="2.2" height="2.6" transform="rotate(315)"/><circle r="3.5"/><circle r="1.6" fill="#2a2a2a"/></g>
<path d="M16.2 507.1 h2.6 l-1.3 2.2z" fill="#e8e8e8"/>
</g>
</svg>
</body></html>
